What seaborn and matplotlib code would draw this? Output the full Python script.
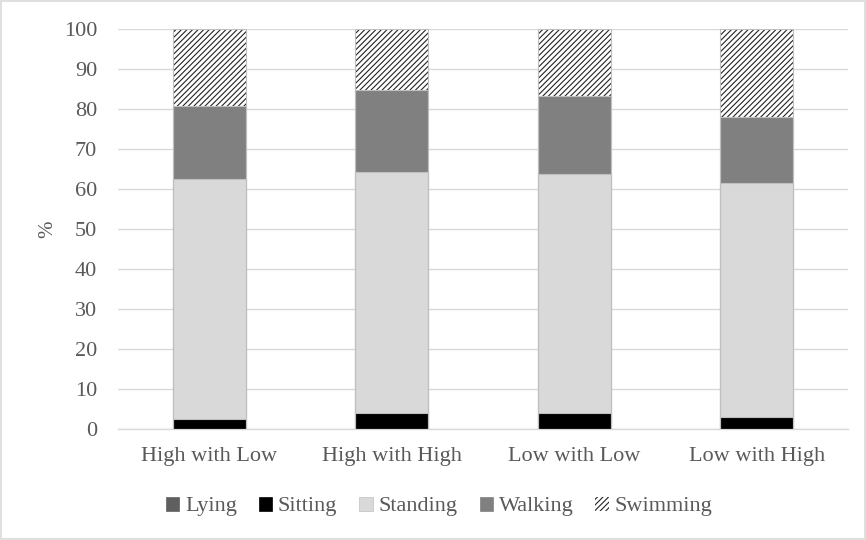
import matplotlib
matplotlib.use("Agg")
import matplotlib.pyplot as plt
import seaborn as sns
import pandas as pd
import numpy as np
from matplotlib.patches import Patch, Rectangle

categories = ["High with Low", "High with High", "Low with Low", "Low with High"]
lying = [0.0, 0.0, 0.0, 0.0]
sitting = [2.4, 3.9, 3.9, 3.0]
standing = [60.2, 60.3, 59.8, 58.6]
walking = [18.1, 20.5, 19.5, 16.5]
swimming = [19.3, 15.3, 16.8, 21.9]
series_names = ["Lying", "Sitting", "Standing", "Walking", "Swimming"]
y_ticks = [0, 10, 20, 30, 40, 50, 60, 70, 80, 90, 100]

sns.set_theme(style="white")
plt.rcParams["font.family"] = ["Liberation Serif", "DejaVu Serif"]
plt.rcParams["hatch.linewidth"] = 0.8

colors = {"Lying": "#5f5f5f", "Sitting": "#000000", "Standing": "#d9d9d9",
          "Walking": "#808080", "Swimming": "#ffffff"}
edge = "#bfbfbf"
text_col = "#595959"
fs = 16

df = pd.DataFrame({"cat": categories, "Lying": lying, "Sitting": sitting,
                   "Standing": standing, "Walking": walking, "Swimming": swimming})
cum = df[series_names].cumsum(axis=1)

fig = plt.figure(figsize=(8.66, 5.40), dpi=100)
ax = fig.add_axes([118 / 866, 1 - 429 / 540, (848 - 118) / 866, (429 - 29) / 540])

# draw cumulative stacks top-down
for name in ["Swimming", "Walking", "Standing", "Sitting"]:
    n_before = len(ax.patches)
    sns.barplot(x=df["cat"], y=cum[name], color=colors[name], width=0.4,
                edgecolor=edge, linewidth=0.8, saturation=1, ax=ax, zorder=3)
    if name == "Swimming":
        for p in ax.patches[n_before:]:
            p.set_hatch("//////")
            p.set_facecolor("white")
            p.set_edgecolor("#222222")
            p.set_linewidth(0)
        sns.barplot(x=df["cat"], y=cum[name], width=0.4, fill=False,
                    edgecolor=edge, linewidth=0.8, ax=ax, zorder=3.5)

ax.set_xlim(-0.5, 3.5)
ax.set_ylim(0, 100)
ax.set_yticks(y_ticks)
ax.yaxis.grid(True, color="#d9d9d9", linewidth=1.0, zorder=0)
ax.set_axisbelow(True)
for s in ["top", "right", "left"]:
    ax.spines[s].set_visible(False)
ax.spines["bottom"].set_color("#d9d9d9")
ax.spines["bottom"].set_linewidth(1.0)
ax.tick_params(axis="y", length=0, pad=15, labelsize=fs, labelcolor=text_col)
ax.tick_params(axis="x", length=0, pad=13, labelsize=fs, labelcolor=text_col)
ax.set_xlabel("")
ax.set_ylabel("%", fontsize=fs - 1, color=text_col, labelpad=5)

handles = []
for name in series_names:
    if name == "Swimming":
        handles.append(Patch(facecolor="white", edgecolor="#222222", hatch="//////", linewidth=0))
    else:
        handles.append(Patch(facecolor=colors[name],
                             edgecolor=colors[name] if name != "Standing" else edge, linewidth=0.5))
fig.legend(handles, series_names, loc="center", bbox_to_anchor=(0.507, 0.062), ncol=5,
           frameon=False, handlelength=0.6, handleheight=0.6, handletextpad=0.25,
           columnspacing=1.0, prop={"size": fs}, labelcolor=text_col)

fig.patches.append(Rectangle((0.0008, 0.001), 0.998, 0.997, transform=fig.transFigure,
                             fill=False, edgecolor="#d9d9d9", linewidth=1.2))

fig.savefig("out.png", dpi=100)
